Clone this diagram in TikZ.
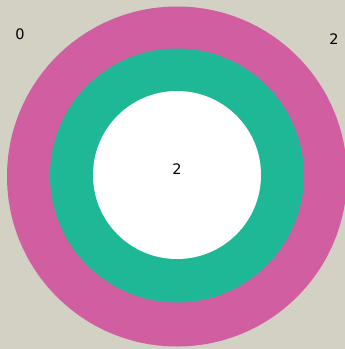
\documentclass[tikz,border=0pt]{standalone}
\usepackage{fontspec}
\setmainfont{DejaVu Sans}
\definecolor{bg}{RGB}{211,208,196}
\definecolor{mag}{RGB}{208,94,161}
\definecolor{grn}{RGB}{30,184,150}
\tikzset{lbl/.style={font=\fontsize{14.5}{17}\selectfont, text=black, inner sep=0pt}}
\begin{document}
\begin{tikzpicture}[x=1pt,y=-1pt]
\fill[bg] (0,0) rectangle (345,349);
\useasboundingbox (0,0) rectangle (345,349);
\fill[mag] (177,176.5) circle (170);
\fill[grn] (177,175.5) circle (127);
\fill[white] (177,175) circle (84);
\node[lbl] (a) at (20,34) {0};
\node[lbl] (b) at (334,39) {2};
\node[lbl] (c) at (177,169) {2};
\end{tikzpicture}
\end{document}
